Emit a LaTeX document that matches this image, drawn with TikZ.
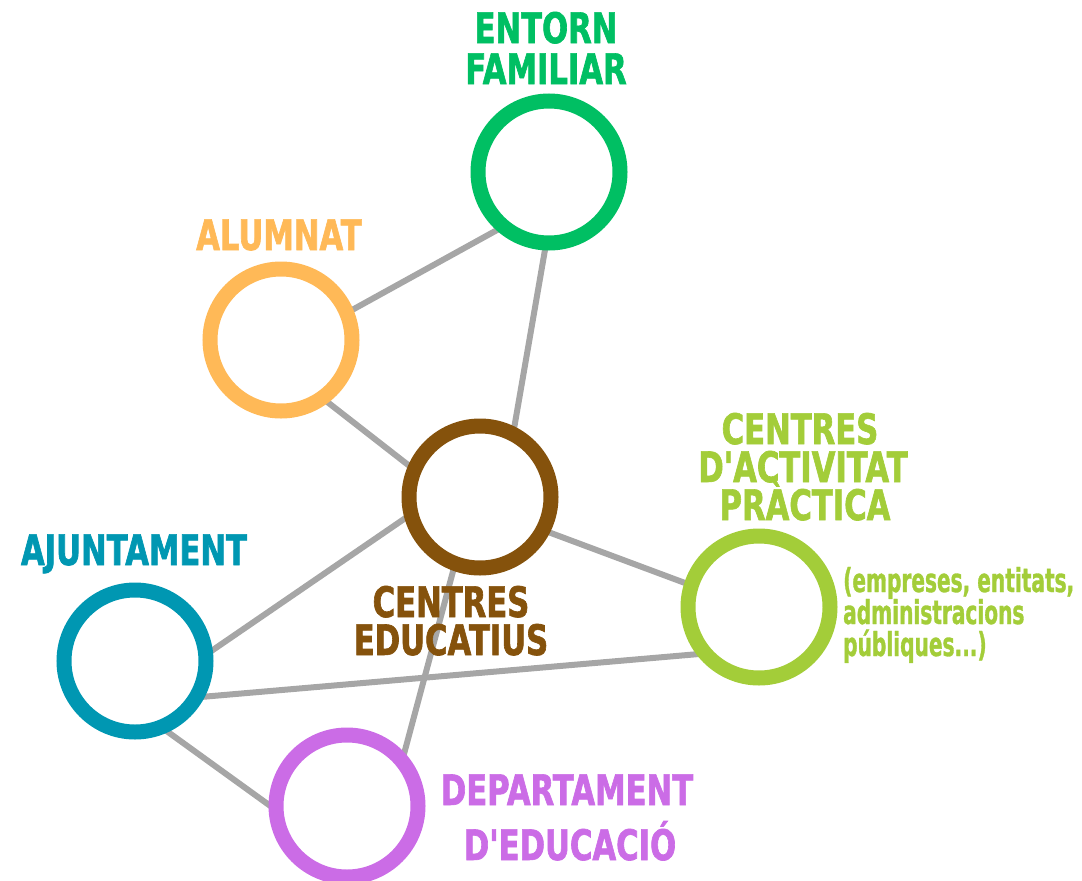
\documentclass[tikz,border=0pt]{standalone}
\usepackage{fontspec}
\setmainfont{DejaVu Sans}
\newfontfamily\titfont[FakeStretch=0.73, FakeBold=1.5]{DejaVu Sans}
\newfontfamily\petitfont[FakeStretch=0.61, FakeBold=1]{DejaVu Sans}
\usetikzlibrary{backgrounds}

\definecolor{verd}{HTML}{00BF63}
\definecolor{taronja}{HTML}{FFB957}
\definecolor{marro}{HTML}{85520C}
\definecolor{llima}{HTML}{A3CD39}
\definecolor{blau}{HTML}{0097B2}
\definecolor{lila}{HTML}{CB6CE6}
\definecolor{gris}{HTML}{A6A6A6}

\tikzset{
  cercle/.style={circle, draw=#1, line width=15pt, minimum size=142pt, inner sep=0pt},
  lligam/.style={draw=gris, line width=6pt, shorten <=-5pt, shorten >=-5pt},
  titol/.style={text=#1, anchor=base, inner sep=0pt,
                font=\titfont\bfseries\fontsize{42}{42}\selectfont},
  nota/.style={text=llima, anchor=base west, inner sep=0pt,
               font=\petitfont\bfseries\fontsize{33}{33}\selectfont}
}

\begin{document}
\begin{tikzpicture}[x=1pt,y=-1pt]
\useasboundingbox (0,0) rectangle (1082,881);

% Cercles
\node[cercle=verd] (entorn) at (549,172) {};
\node[cercle=taronja] (alumnat) at (281,340) {};
\node[cercle=marro] (centres) at (480,497) {};
\node[cercle=llima] (activitat) at (759,607) {};
\node[cercle=blau] (ajuntament) at (135,661) {};
\node[cercle=lila] (departament) at (347,806) {};

% Connexions
\begin{scope}[on background layer]
\draw[lligam] (alumnat.23) -- (entorn.228);
\draw[lligam] (entorn.267) -- (centres.64);
\draw[lligam] (alumnat.307) -- (centres.156);
\draw[lligam] (centres.196) -- (ajuntament.8);
\draw[lligam] (centres.333) -- (activitat.162);
\draw[lligam] (ajuntament.333) -- (activitat.217);
\draw[lligam] (ajuntament.295) -- (departament.179);
\draw[lligam] (centres.250) -- (departament.43);
\end{scope}

% Etiquetes
\node[titol=verd] (entornA) at (546,43) {ENTORN};
\node[titol=verd] (entornB) at (546,84) {FAMILIAR};
\node[titol=taronja] (alumnatA) at (279,250) {ALUMNAT};
\node[titol=marro] (centresA) at (451,617) {CENTRES};
\node[titol=marro] (centresB) at (451,655) {EDUCATIUS};
\node[titol=llima] (activitatA) at (800,444) {CENTRES};
\node[titol=llima] (activitatB) at (803,482) {D'ACTIVITAT};
\node[titol=llima] (activitatC) at (805,520) {PRÀCTICA};
\node[titol=blau] (ajuntamentA) at (134,565) {AJUNTAMENT};
\node[titol=lila] (departamentA) at (567,805) {DEPARTAMENT};
\node[titol=lila] (departamentB) at (570,860) {D'EDUCACIÓ};

% Nota
\node[nota] (notaA) at (843,592) {(empreses, entitats,};
\node[nota] (notaB) at (843,624) {administracions};
\node[nota] (notaC) at (843,656) {públiques...)};

\end{tikzpicture}
\end{document}
